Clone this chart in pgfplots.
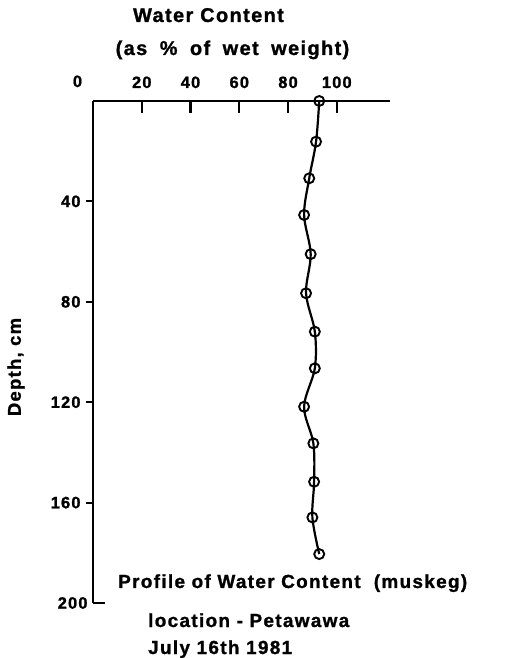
\documentclass[border=0pt]{standalone}
\usepackage{pgfplots}
\pgfplotsset{compat=1.18}
\usepackage{fontspec}
\setmainfont{Liberation Sans}[LetterSpace=7, BoldFeatures={FakeBold=1.2}]
\begin{document}
\bfseries
\begin{tikzpicture}[x=1bp,y=1bp]
\path (-93,-55) rectangle (420,603);
\begin{axis}[
  at={(0,0)}, anchor=south west,
  scale only axis, width=297.4bp, height=502bp,
  xmin=0, xmax=122, ymin=0, ymax=200, y dir=reverse,
  axis x line*=top, axis y line*=left,
  axis line style={line width=2.2bp, -},
  clip=false,
  /pgf/number format/assume math mode=true,
  tick align=inside, major tick length=12.5bp,
  tick style={black, line width=2.2bp},
  xtick={20,40,60,80,100},
  xticklabel style={anchor=base, yshift=13bp, font=\fontsize{16.5}{16.5}\selectfont\bfseries},
  ytick={200},
  extra y ticks={40,80,120,160},
  extra y tick style={tick align=outside, major tick length=7bp},
  yticklabel style={anchor=east, xshift=-2bp, font=\fontsize{16.5}{16.5}\selectfont\bfseries},
]
\addplot[black, line width=2.2bp, smooth, tension=0.55, mark=o, mark size=5bp,
  mark options={fill=white, line width=1.9bp, solid}] coordinates {
(92.8,0) (91.5,16.2) (88.7,30.8) (86.6,45.4) (89.3,61.0) (87.4,76.6) (91.0,91.9)
(91.0,106.5) (86.6,121.8) (90.4,136.4) (90.7,151.7) (90.0,165.9) (92.8,180.5)
};
\end{axis}
\node[anchor=base, font=\fontsize{16.5}{16.5}\selectfont\bfseries] at (-15.5,516) {0};
\node[anchor=base, font=\fontsize{20}{20}\selectfont\bfseries] at (115.5,581) {Water Content};
\node[anchor=base, font=\fontsize{20}{20}\selectfont\bfseries] at (139.5,548) {\spaceskip=12.5bp (as \% of wet weight)};
\node[rotate=90, font=\fontsize{18.5}{18.5}\selectfont\bfseries] at (-77,236) {Depth, cm};
\node[anchor=base west, inner sep=0pt, font=\fontsize{19}{19}\selectfont\bfseries] at (25,15) {Profile of Water Content\ \ (muskeg)};
\node[anchor=base west, inner sep=0pt, font=\fontsize{19}{19}\selectfont\bfseries] at (55,-24) {location - Petawawa};
\node[anchor=base west, inner sep=0pt, font=\fontsize{19}{19}\selectfont\bfseries] at (55,-51) {July 16th 1981};
\end{tikzpicture}
\end{document}
